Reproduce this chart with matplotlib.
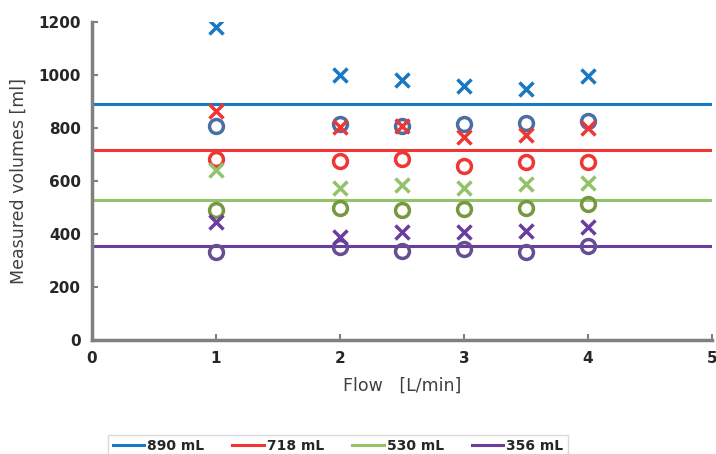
import matplotlib
matplotlib.use('Agg')
from matplotlib import pyplot as plt

flow = [1, 2, 2.5, 3, 3.5, 4]

# nominal volumes (horizontal lines)
nominal = [890, 718, 530, 356]
labels = ['890 mL', '718 mL', '530 mL', '356 mL']

# measured volumes, two measurement methods per nominal volume
x_890 = [1181, 1000, 981, 959, 947, 996]
o_890 = [808, 815, 809, 815, 818, 826]
x_718 = [864, 805, 808, 767, 774, 799]
o_718 = [682, 677, 682, 658, 673, 673]
x_530 = [642, 575, 585, 572, 588, 591]
o_530 = [491, 497, 491, 493, 497, 513]
x_356 = [447, 390, 409, 409, 412, 425]
o_356 = [331, 350, 336, 342, 331, 355]

line_colors = ['#1a78c2', '#f03535', '#92c36a', '#6a3d9f']
x_colors = ['#1a78c2', '#f03535', '#92c36a', '#6a3d9f']
o_colors = ['#4a6fa5', '#f03535', '#77983f', '#654f90']

fig = plt.figure(figsize=(7.16, 4.54), dpi=100)
ax = fig.add_axes([0.1285, 0.2511, 0.8659, 0.7004])

for val, lab, c in zip(nominal, labels, line_colors):
    ax.axhline(val, color=c, linewidth=2.2, label=lab)

xs = [x_890, x_718, x_530, x_356]
os_ = [o_890, o_718, o_530, o_356]
for xv, ov, cx, co in zip(xs, os_, x_colors, o_colors):
    ax.plot(flow, ov, linestyle='none', marker='o', markersize=10,
            markerfacecolor='none', markeredgecolor=co, markeredgewidth=2.5)
    ax.plot(flow, xv, linestyle='none', marker='x', markersize=10,
            markeredgecolor=cx, markeredgewidth=2.5)

ax.set_xlim(0, 5)
ax.set_ylim(0, 1200)
ax.set_yticks(range(0, 1201, 200))
ax.set_xticks(range(0, 6))

for s in ['top', 'right']:
    ax.spines[s].set_visible(False)
for s in ['left', 'bottom']:
    ax.spines[s].set_color('#808080')
    ax.spines[s].set_linewidth(2.5)

ax.tick_params(direction='in', length=4, width=1.5, color='#808080',
               labelsize=11, labelcolor='#262626', pad=8)
for t in ax.get_xticklabels() + ax.get_yticklabels():
    t.set_fontweight('bold')

ax.set_xlabel('Flow   [L/min]', fontsize=12.5, color='#404040', labelpad=8)
ax.set_ylabel('Measured volumes [ml]', fontsize=12.5, color='#404040', labelpad=8)

leg = fig.legend(loc='upper center', bbox_to_anchor=(0.472, 0.058), ncol=4,
                 frameon=True, fancybox=False, edgecolor='#d0d0d0',
                 handlelength=2.3, columnspacing=2.0, handletextpad=0.2,
                 prop={'weight': 'bold', 'size': 10},
                 borderpad=0.3)
for t in leg.get_texts():
    t.set_color('#262626')

fig.savefig('out.png', dpi=100)
